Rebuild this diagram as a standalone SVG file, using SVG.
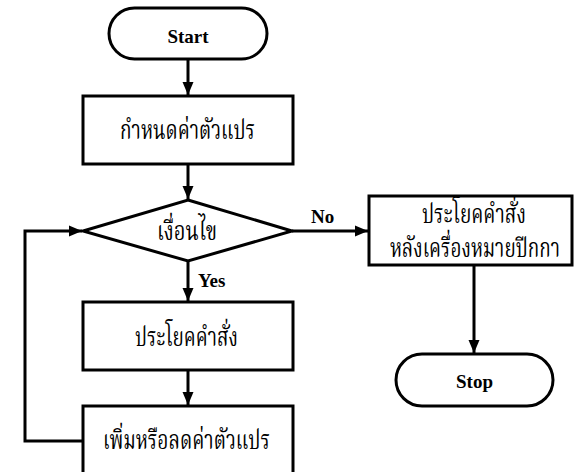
<svg xmlns="http://www.w3.org/2000/svg" width="574" height="472" viewBox="0 0 574 472">
<style>
.shape{fill:#fff;stroke:#000;stroke-width:3}
.line{fill:none;stroke:#000;stroke-width:3}
.en{font-family:"Liberation Serif","Times New Roman",serif;font-weight:bold;font-size:19px;fill:#000}
.th{font-family:"Liberation Serif","Noto Serif Thai","Noto Sans Thai",serif;font-size:18.5px;fill:#000;text-anchor:middle}
</style>
<defs>
<marker id="arr" markerUnits="userSpaceOnUse" markerWidth="14" markerHeight="14" viewBox="0 0 14 14" refX="13" refY="7" orient="auto">
<path d="M0,1.5 L13,7 L0,12.5 Z" fill="#000"/>
</marker>
</defs>
<g id="connectors">
<line class="line" x1="188" y1="59" x2="188" y2="95" marker-end="url(#arr)"/>
<line class="line" x1="188" y1="164" x2="188" y2="199" marker-end="url(#arr)"/>
<line class="line" x1="188" y1="261" x2="188" y2="301" marker-end="url(#arr)"/>
<line class="line" x1="188" y1="370" x2="188" y2="405" marker-end="url(#arr)"/>
<line class="line" x1="292" y1="231" x2="368" y2="231" marker-end="url(#arr)"/>
<line class="line" x1="474" y1="265" x2="474" y2="353" marker-end="url(#arr)"/>
<polyline class="line" points="83,441 25,441 25,231 82,231" marker-end="url(#arr)"/>
<text class="en" x="311" y="223">No</text>
<text class="en" x="198" y="287">Yes</text>
</g>
<g id="start">
<rect class="shape" x="109" y="8" width="158" height="51" rx="25.5"/>
<text class="en" x="188" y="43" text-anchor="middle">Start</text>
</g>
<g id="init">
<rect class="shape" x="83" y="96" width="210" height="68"/>
<text class="th" transform="translate(187.5,139) scale(1,1.4)" textLength="135" lengthAdjust="spacingAndGlyphs">กำหนดค่าตัวแปร</text>
</g>
<g id="cond">
<polygon class="shape" points="188,200 292,231 188,261 83,231"/>
<text class="th" transform="translate(187,240) scale(1,1.4)" textLength="60" lengthAdjust="spacingAndGlyphs">เงื่อนไข</text>
</g>
<g id="stmt">
<rect class="shape" x="83" y="302" width="210" height="68"/>
<text class="th" transform="translate(186.5,346) scale(1,1.4)" textLength="103" lengthAdjust="spacingAndGlyphs">ประโยคคำสั่ง</text>
</g>
<g id="update">
<rect class="shape" x="83" y="406" width="210" height="70"/>
<text class="th" transform="translate(186.5,449) scale(1,1.4)" textLength="167" lengthAdjust="spacingAndGlyphs">เพิ่มหรือลดค่าตัวแปร</text>
</g>
<g id="after">
<rect class="shape" x="369" y="196" width="203" height="69"/>
<text class="th" transform="translate(474,223) scale(1,1.4)" textLength="104" lengthAdjust="spacingAndGlyphs">ประโยคคำสั่ง</text>
<text class="th" transform="translate(475,257) scale(1,1.4)" textLength="170" lengthAdjust="spacingAndGlyphs">หลังเครื่องหมายปีกกา</text>
</g>
<g id="stop">
<rect class="shape" x="396" y="354" width="157" height="52" rx="26"/>
<text class="en" x="474.5" y="388" text-anchor="middle">Stop</text>
</g>
</svg>
